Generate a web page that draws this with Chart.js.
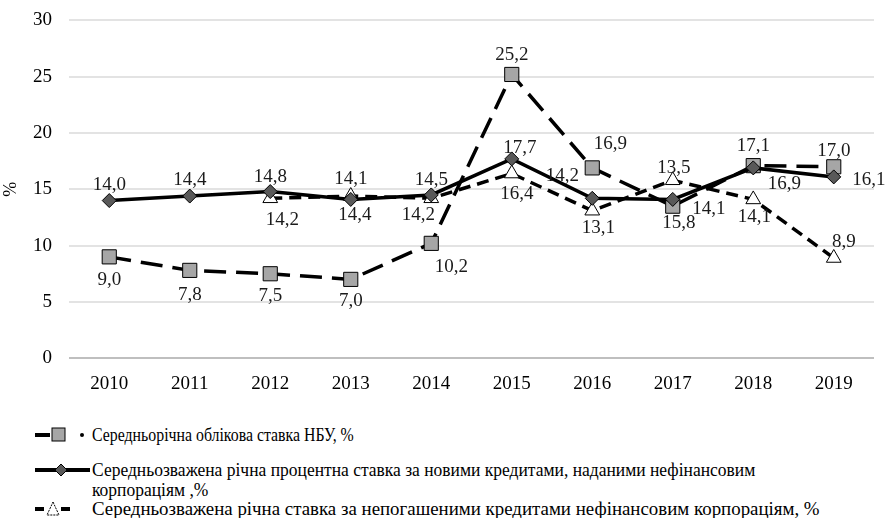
<!DOCTYPE html>
<html>
<head>
<meta charset="utf-8">
<style>
  body { margin: 0; background: #fff; }
  #wrap { position: relative; width: 885px; height: 518px; overflow: hidden; font-family: 'Liberation Serif', 'Times New Roman', serif; }
  #chart { position: absolute; left: 0; top: -8px; }
  .leg { position: absolute; left: 30px; font-family: 'Liberation Serif', 'Times New Roman', serif; font-size: 18px; color: #000; line-height: 20px; }
  .leg svg { position: absolute; left: 0; top: 0; }
  .leg span { position: absolute; left: 62px; white-space: nowrap; transform-origin: 0 0; }
</style>
<script src="https://cdn.jsdelivr.net/npm/chart.js@4/dist/chart.umd.min.js"></script>
</head>
<body>
<div id="wrap">
  <canvas id="chart" width="885" height="417"></canvas>

  <div class="leg" style="top:425px">
    <svg width="62" height="20">
      <line x1="5" y1="10" x2="20" y2="10" stroke="#000" stroke-width="4"/>
      <rect x="22" y="3" width="13" height="13" fill="#a6a6a6" stroke="#000" stroke-width="1"/>
      <circle cx="52" cy="10" r="2" fill="#000"/>
    </svg>
    <span style="transform: scaleX(0.88)">Середньорічна облікова ставка НБУ, %</span>
  </div>
  <div class="leg" style="top:460px">
    <svg width="62" height="20">
      <line x1="5" y1="10" x2="60" y2="10" stroke="#000" stroke-width="4"/>
      <polygon points="31,4 37,10 31,16 25,10" fill="#595959" stroke="#000" stroke-width="1"/>
    </svg>
    <span style="transform: scaleX(0.972)">Середньозважена річна процентна ставка за новими кредитами, наданими нефінансовим<br>корпораціям ,%</span>
  </div>
  <div class="leg" style="top:499px">
    <svg width="62" height="20">
      <line x1="5" y1="10" x2="14" y2="10" stroke="#000" stroke-width="4"/>
      <polygon points="23,3 29,16 17,16" fill="#fff" stroke="#000" stroke-width="1" stroke-dasharray="2,1"/>
      <line x1="31" y1="10" x2="40" y2="10" stroke="#000" stroke-width="4"/>
    </svg>
    <span style="transform: scaleX(1.049)">Середньозважена річна ставка за непогашеними кредитами нефінансовим корпораціям, %</span>
  </div>
</div>

<script>
// Years along the x axis
const years = ['2010', '2011', '2012', '2013', '2014', '2015', '2016', '2017', '2018', '2019']

// Values as drawn on the chart
const nbuRate = [9.0, 7.8, 7.5, 7.0, 10.2, 25.2, 16.9, 13.5, 17.1, 17.0]
const newLoansRate = [14.0, 14.4, 14.8, 14.1, 14.5, 17.7, 14.2, 14.1, 16.9, 16.1]
const outstandingRate = [null, null, 14.2, 14.4, 14.2, 16.4, 13.1, 15.8, 14.1, 8.9]

// Data label texts as printed next to the points
const nbuLabels = ['9,0', '7,8', '7,5', '7,0', '10,2', '25,2', '16,9', '15,8', '17,1', '17,0']
const newLoansLabels = ['14,0', '14,4', '14,8', '14,1', '14,5', '17,7', '14,2', '14,1', '16,9', '16,1']
const outstandingLabels = [null, null, '14,2', '14,4', '14,2', '16,4', '13,1', '13,5', '14,1', '8,9']

const FONT = "'Liberation Serif', 'Times New Roman', serif"

// label placement (dx, dy from the point, px)
const shiftNbu = [[0, 23], [0, 25], [0, 22], [0, 22], [20, 24], [0, -19], [18, -24], [6, 17], [0, -20], [0, -16]]
const shiftNew = [[0, -16], [0, -16], [0, -15], [0, -20], [0, -15], [8, -11], [-30, -22], [36, 10], [31, 16], [35, 3]]
const shiftOut = [null, null, [12, 22], [4, 19], [-13, 17], [5, 20], [6, 17], [1, -12], [1, 18], [10, -16]]

const pointLabels = {
    id: 'pointLabels',
    afterDatasetsDraw(chart) {
        const ctx = chart.ctx
        ctx.save()
        ctx.font = '19px ' + FONT
        ctx.fillStyle = '#1a1a1a'
        ctx.textAlign = 'center'
        ctx.textBaseline = 'middle'
        chart.data.datasets.forEach(function (ds, i) {
            const meta = chart.getDatasetMeta(i)
            meta.data.forEach(function (pt, j) {
                const txt = ds.pointText[j]
                if (!txt) return
                const s = ds.pointShift[j]
                ctx.fillText(txt, pt.x + s[0], pt.y + s[1])
            })
        })
        ctx.restore()
    }
}

const data = {
    labels: years,
    datasets: [
        {
            label: 'Середньорічна облікова ставка НБУ, %',
            data: nbuRate,
            pointText: nbuLabels,
            pointShift: shiftNbu,
            borderColor: '#000',
            borderWidth: 3.5,
            borderDash: [22, 10],
            pointStyle: 'rect',
            pointRadius: 10,
            pointBackgroundColor: '#a6a6a6',
            pointBorderColor: '#000',
            pointBorderWidth: 1,
            order: 2
        },
        {
            label: 'Середньозважена річна процентна ставка за новими кредитами, наданими нефінансовим корпораціям ,%',
            data: newLoansRate,
            pointText: newLoansLabels,
            pointShift: shiftNew,
            borderColor: '#000',
            borderWidth: 3.5,
            pointStyle: 'rectRot',
            pointRadius: 7,
            pointBackgroundColor: '#595959',
            pointBorderColor: '#000',
            pointBorderWidth: 1,
            order: 1
        },
        {
            label: 'Середньозважена річна ставка за непогашеними кредитами нефінансовим корпораціям, %',
            data: outstandingRate,
            pointText: outstandingLabels,
            pointShift: shiftOut,
            borderColor: '#000',
            borderWidth: 3.5,
            borderDash: [12, 7],
            pointStyle: 'triangle',
            pointRadius: 8.5,
            pointBackgroundColor: '#fff',
            pointBorderColor: '#000',
            pointBorderWidth: 1,
            order: 3
        }
    ]
}

Chart.defaults.font.family = FONT

const config = {
    type: 'line',
    data: data,
    options: {
        responsive: false,
        animation: false,
        layout: { padding: { top: 4, right: 1, bottom: 8, left: 0 } },
        plugins: {
            legend: { display: false },
            tooltip: { enabled: false }
        },
        scales: {
            x: {
                offset: true,
                grid: { display: false },
                border: { display: false },
                ticks: { color: '#000', font: { family: FONT, size: 19 }, padding: 6 }
            },
            y: {
                min: 0,
                max: 30,
                afterFit(scale) { scale.width = 69 },
                border: { display: false },
                grid: {
                    drawTicks: false,
                    lineWidth: 2,
                    color: function (c) { return c.tick.value === 0 ? '#bfbfbf' : '#e3e3e3' }
                },
                ticks: { stepSize: 5, color: '#000', font: { family: FONT, size: 19 }, padding: 17 },
                title: { display: true, text: '%', color: '#000', font: { family: FONT, size: 18 }, padding: 0 }
            }
        }
    },
    plugins: [pointLabels]
}

new Chart(document.getElementById('chart'), config)
</script>
</body>
</html>
